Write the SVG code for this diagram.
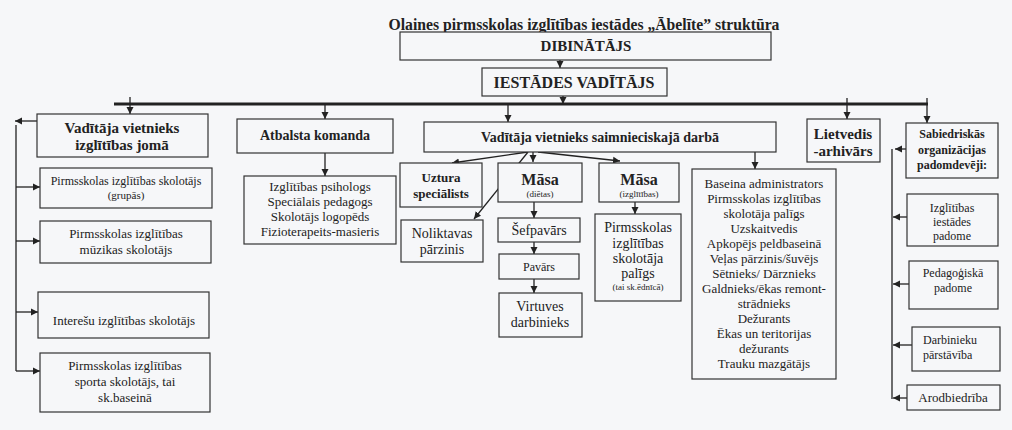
<svg xmlns="http://www.w3.org/2000/svg" width="1012" height="430" viewBox="0 0 1012 430" font-family="'Liberation Serif', 'Times New Roman', serif">
<defs>
<marker id="ah" viewBox="0 0 10 10" refX="10" refY="5" markerWidth="7" markerHeight="8" markerUnits="userSpaceOnUse" orient="auto">
<path d="M0,0 L10,5 L0,10 z" fill="#222"/>
</marker>
<style>
.bx{fill:#f6f7f9;stroke:#333;stroke-width:1.2}
.c{stroke:#222;stroke-width:1.3;fill:none}
.a{stroke:#222;stroke-width:1.3;fill:none;marker-end:url(#ah)}
.t{font-family:'Liberation Serif','Times New Roman',serif;fill:#222;text-anchor:middle}
.s{text-anchor:start}
.b{font-weight:bold}
</style>
</defs>
<rect x="0" y="0" width="1012" height="430" fill="#f6f7f9"/>
<text class="t b" x="584" y="30" font-size="15.7">Olaines pirmsskolas izglītības iestādes „Ābelīte” struktūra</text>

<g id="connectors">
<line class="a" x1="560" y1="60" x2="560" y2="68"/>
<line class="a" x1="563" y1="96" x2="563" y2="104"/>
<line x1="114" y1="104" x2="928" y2="104" stroke="#222" stroke-width="3"/>
<line class="c" x1="927" y1="98" x2="927" y2="104"/>
<line class="a" x1="130" y1="97" x2="130" y2="114"/>
<line class="a" x1="325" y1="104" x2="325" y2="119"/>
<line class="a" x1="508" y1="104" x2="508" y2="122"/>
<line class="a" x1="847" y1="98" x2="847" y2="119"/>
<line class="a" x1="927" y1="104" x2="927" y2="123"/>
<line class="a" x1="37" y1="121" x2="15" y2="121"/>
<line class="c" x1="16" y1="125" x2="16" y2="371"/>
<line class="a" x1="16" y1="187" x2="40" y2="187"/>
<line class="a" x1="16" y1="241" x2="40" y2="241"/>
<line class="a" x1="16" y1="312" x2="38" y2="312"/>
<line class="a" x1="16" y1="371" x2="40" y2="371"/>
<line class="a" x1="325" y1="153" x2="325" y2="176"/>
<line class="a" x1="528" y1="152" x2="452" y2="163"/>
<line class="a" x1="528" y1="152" x2="474" y2="219"/>
<line class="a" x1="533" y1="152" x2="533" y2="162"/>
<line class="a" x1="538" y1="152" x2="620" y2="161"/>
<line class="a" x1="755" y1="152" x2="755" y2="169"/>
<line class="a" x1="534" y1="202" x2="534" y2="218"/>
<line class="a" x1="534" y1="242" x2="534" y2="254"/>
<line class="a" x1="534" y1="279" x2="534" y2="293"/>
<line class="a" x1="635" y1="202" x2="635" y2="214"/>
<line class="c" x1="892" y1="149" x2="892" y2="399"/>
<line class="a" x1="906" y1="149" x2="895" y2="149"/>
<line class="a" x1="907" y1="217" x2="893" y2="217"/>
<line class="a" x1="909" y1="284" x2="893" y2="284"/>
<line class="a" x1="912" y1="345" x2="893" y2="345"/>
<line class="a" x1="907" y1="398" x2="893" y2="398"/>
</g>

<g id="dibinatajs">
<rect class="bx" x="400" y="32" width="371" height="28"/>
<text class="t b" x="586" y="51" font-size="15">DIBINĀTĀJS</text>
</g>
<g id="iestades-vaditajs">
<rect class="bx" x="482" y="68" width="185" height="28"/>
<text class="t b" x="574" y="88" font-size="16">IESTĀDES VADĪTĀJS</text>
</g>

<g id="vad-izgl">
<rect class="bx" x="37" y="114" width="171" height="43"/>
<text class="t b" x="122" y="133" font-size="15">Vadītāja vietnieks</text>
<text class="t b" x="122" y="150" font-size="15">izglītības jomā</text>
</g>
<g id="pii-skolotajs">
<rect class="bx" x="40" y="168" width="172" height="40"/>
<text class="t" x="126" y="185" font-size="12">Pirmsskolas izglītības skolotājs</text>
<text class="t" x="126" y="199" font-size="11">(grupās)</text>
</g>
<g id="muzikas-skolotajs">
<rect class="bx" x="40" y="221" width="171" height="42"/>
<text class="t" x="126" y="238" font-size="13">Pirmsskolas izglītības</text>
<text class="t" x="126" y="254" font-size="13">mūzikas skolotājs</text>
</g>
<g id="interesu-skolotajs">
<rect class="bx" x="38" y="292" width="171" height="46"/>
<text class="t" x="124" y="325" font-size="13">Interešu izglītības skolotājs</text>
</g>
<g id="sporta-skolotajs">
<rect class="bx" x="40" y="353" width="170" height="59"/>
<text class="t" x="125" y="370" font-size="13">Pirmsskolas izglītības</text>
<text class="t" x="125" y="386" font-size="13">sporta skolotājs, tai</text>
<text class="t" x="125" y="402" font-size="13">sk.baseinā</text>
</g>

<g id="atbalsta-komanda">
<rect class="bx" x="237" y="119" width="156" height="34"/>
<text class="t b" x="315" y="140" font-size="14">Atbalsta komanda</text>
</g>
<g id="atbalsta-saraksts">
<rect class="bx" x="244" y="176" width="152" height="68"/>
<text class="t" x="320" y="191" font-size="13">Izglītības psihologs</text>
<text class="t" x="320" y="206" font-size="13">Speciālais pedagogs</text>
<text class="t" x="320" y="221" font-size="13">Skolotājs logopēds</text>
<text class="t" x="320" y="236" font-size="13">Fizioterapeits-masieris</text>
</g>

<g id="vad-saimn">
<rect class="bx" x="424" y="122" width="352" height="30"/>
<text class="t b" x="600" y="142" font-size="14">Vadītāja vietnieks saimnieciskajā darbā</text>
</g>
<g id="uztura">
<rect class="bx" x="400" y="163" width="82" height="44"/>
<text class="t b" x="441" y="182" font-size="13">Uztura</text>
<text class="t b" x="441" y="198" font-size="13">speciālists</text>
</g>
<g id="noliktavas">
<rect class="bx" x="401" y="220" width="82" height="42"/>
<text class="t" x="442" y="238" font-size="14">Noliktavas</text>
<text class="t" x="442" y="254" font-size="14">pārzinis</text>
</g>
<g id="masa-dietas">
<rect class="bx" x="498" y="163" width="84" height="39"/>
<text class="t b" x="540" y="185" font-size="16">Māsa</text>
<text class="t" x="540" y="197" font-size="9">(diētas)</text>
</g>
<g id="sefpavars">
<rect class="bx" x="498" y="218" width="82" height="24"/>
<text class="t" x="539" y="235" font-size="14">Šefpavārs</text>
</g>
<g id="pavars">
<rect class="bx" x="499" y="254" width="80" height="25"/>
<text class="t" x="539" y="271" font-size="12">Pavārs</text>
</g>
<g id="virtuves">
<rect class="bx" x="499" y="293" width="83" height="44"/>
<text class="t" x="540" y="311" font-size="14">Virtuves</text>
<text class="t" x="540" y="327" font-size="14">darbinieks</text>
</g>
<g id="masa-izgl">
<rect class="bx" x="599" y="163" width="80" height="39"/>
<text class="t b" x="639" y="185" font-size="16">Māsa</text>
<text class="t" x="639" y="197" font-size="9">(izglītības)</text>
</g>
<g id="skolotaja-paligs">
<rect class="bx" x="595" y="214" width="86" height="87"/>
<text class="t" x="638" y="232" font-size="14">Pirmsskolas</text>
<text class="t" x="638" y="248" font-size="14">izglītības</text>
<text class="t" x="638" y="263" font-size="14">skolotāja</text>
<text class="t" x="638" y="278" font-size="14">palīgs</text>
<text class="t" x="638" y="290" font-size="9">(tai sk.ēdnīcā)</text>
</g>
<g id="saimn-saraksts">
<rect class="bx" x="692" y="169" width="144" height="210"/>
<text class="t" x="764" y="188" font-size="13">Baseina administrators</text>
<text class="t" x="764" y="203" font-size="13">Pirmsskolas izglītības</text>
<text class="t" x="764" y="218" font-size="13">skolotāja palīgs</text>
<text class="t" x="764" y="233" font-size="13">Uzskaitvedis</text>
<text class="t" x="764" y="248" font-size="13">Apkopējs peldbaseinā</text>
<text class="t" x="764" y="263" font-size="13">Veļas pārzinis/šuvējs</text>
<text class="t" x="764" y="278" font-size="13">Sētnieks/ Dārznieks</text>
<text class="t" x="764" y="293" font-size="13">Galdnieks/ēkas remont-</text>
<text class="t" x="764" y="308" font-size="13">strādnieks</text>
<text class="t" x="764" y="323" font-size="13">Dežurants</text>
<text class="t" x="764" y="338" font-size="13">Ēkas un teritorijas</text>
<text class="t" x="764" y="353" font-size="13">dežurants</text>
<text class="t" x="764" y="368" font-size="13">Trauku mazgātājs</text>
</g>

<g id="lietvedis">
<rect class="bx" x="807" y="119" width="73" height="43"/>
<text class="t b" x="843" y="139" font-size="15">Lietvedis</text>
<text class="t b" x="843" y="156" font-size="15">-arhivārs</text>
</g>

<g id="sabiedriskas">
<rect class="bx" x="906" y="123" width="92" height="55"/>
<text class="t b" x="952" y="138" font-size="12">Sabiedriskās</text>
<text class="t b" x="952" y="154" font-size="12">organizācijas</text>
<text class="t b" x="952" y="169" font-size="12">padomdevēji:</text>
</g>
<g id="iestades-padome">
<rect class="bx" x="907" y="194" width="91" height="52"/>
<text class="t" x="952" y="212" font-size="12">Izglītības</text>
<text class="t" x="952" y="226" font-size="12">iestādes</text>
<text class="t" x="952" y="240" font-size="12">padome</text>
</g>
<g id="pedagogiska-padome">
<rect class="bx" x="909" y="261" width="89" height="48"/>
<text class="t" x="953" y="277" font-size="12">Pedagoģiskā</text>
<text class="t" x="953" y="292" font-size="12">padome</text>
</g>
<g id="darbinieku-parstaviba">
<rect class="bx" x="912" y="327" width="88" height="44"/>
<text class="t s" x="923" y="344" font-size="12">Darbinieku</text>
<text class="t s" x="923" y="359" font-size="12">pārstāvība</text>
</g>
<g id="arodbiedriba">
<rect class="bx" x="907" y="385" width="93" height="25"/>
<text class="t" x="953" y="402" font-size="13">Arodbiedrība</text>
</g>
</svg>
